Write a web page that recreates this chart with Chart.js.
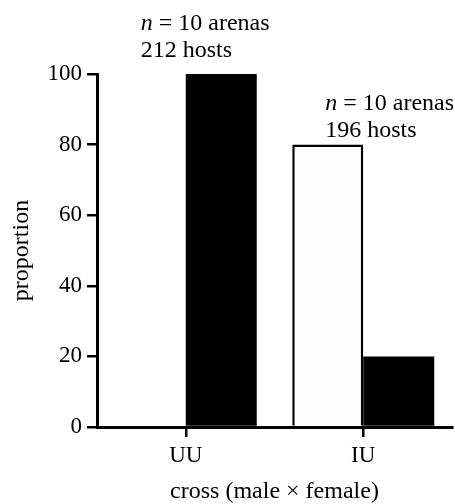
<!DOCTYPE html>
<html lang="en">

<head>
    <meta charset="UTF-8">
    <title>cross (male × female)</title>
    <style>
        body { margin: 0; background: #fff; }
    </style>
</head>

<body>
    <canvas id="chart" width="455" height="504"></canvas>
</body>

<script src="https://cdn.jsdelivr.net/npm/chart.js@4.4.1/dist/chart.umd.min.js"></script>

<script>
    const crosses = ['UU', 'IU'];
    const whiteValues = [0, 80];
    const blackValues = [100, 20];
    const arenas = [10, 10];
    const hosts = [212, 196];
    const yTicks = [0, 20, 40, 60, 80, 100];

    const serif = '"Liberation Serif", "Times New Roman", serif';

    // sample size notes above each pair of bars
    const notePlugin = {
        id: 'notes',
        afterDatasetsDraw(chart) {
            const ctx = chart.ctx;
            const x = chart.scales.x, y = chart.scales.y;
            const offsets = [{ dx: -45, dy: -44 }, { dx: -38, dy: -35 }];
            ctx.save();
            ctx.fillStyle = '#000';
            ctx.textBaseline = 'alphabetic';
            ctx.textAlign = 'left';
            crosses.forEach(function (c, i) {
                const top = y.getPixelForValue(Math.max(whiteValues[i], blackValues[i]));
                const left = x.getPixelForValue(i) + offsets[i].dx;
                const base = top + offsets[i].dy;
                ctx.font = 'italic 24px ' + serif;
                ctx.fillText('n', left, base);
                const w = ctx.measureText('n').width;
                ctx.font = '24px ' + serif;
                ctx.fillText(' = ' + arenas[i] + ' arenas', left + w, base);
                ctx.fillText(hosts[i] + ' hosts', left, base + 27);
            });
            ctx.restore();
        }
    };

    let data = {
        labels: crosses,
        datasets: [{
            label: 'white',
            data: whiteValues,
            backgroundColor: '#fdfdfd',
            borderColor: '#000',
            borderWidth: 2.5
        }, {
            label: 'black',
            data: blackValues,
            backgroundColor: '#000',
            borderWidth: 0
        }]
    };

    var config = {
        type: 'bar',
        data: data,
        options: {
            responsive: false,
            animation: false,
            devicePixelRatio: 1,
            categoryPercentage: 0.8,
            barPercentage: 1.0,
            layout: { padding: { top: 74, right: 3, left: 0, bottom: 0 } },
            plugins: {
                legend: { display: false },
                tooltip: { enabled: false }
            },
            scales: {
                x: {
                    grid: { display: true, drawOnChartArea: false, offset: false, color: '#000', tickLength: 10, lineWidth: 2.5 },
                    border: { color: '#000', width: 3 },
                    ticks: { color: '#000', font: { family: serif, size: 23 }, padding: 5 },
                    title: { display: true, text: 'cross (male × female)', color: '#000', font: { family: serif, size: 24, lineHeight: 1.0 }, padding: { top: 0, bottom: 0 } },
                    afterFit(scale) { scale.height = 77; }
                },
                y: {
                    min: 0,
                    max: 100,
                    afterBuildTicks(scale) { scale.ticks = yTicks.map(v => ({ value: v })); },
                    grid: { display: true, drawOnChartArea: false, color: '#000', tickLength: 10, lineWidth: 2.5 },
                    border: { color: '#000', width: 3 },
                    ticks: { color: '#000', font: { family: serif, size: 23 }, padding: 5 },
                    title: { display: true, text: 'proportion', color: '#000', font: { family: serif, size: 24 }, padding: { top: 7, bottom: 4 } },
                    afterFit(scale) { scale.width = 97; }
                }
            }
        },
        plugins: [notePlugin]
    };

    var chart = new Chart(document.getElementById('chart'), config);
</script>

</html>
